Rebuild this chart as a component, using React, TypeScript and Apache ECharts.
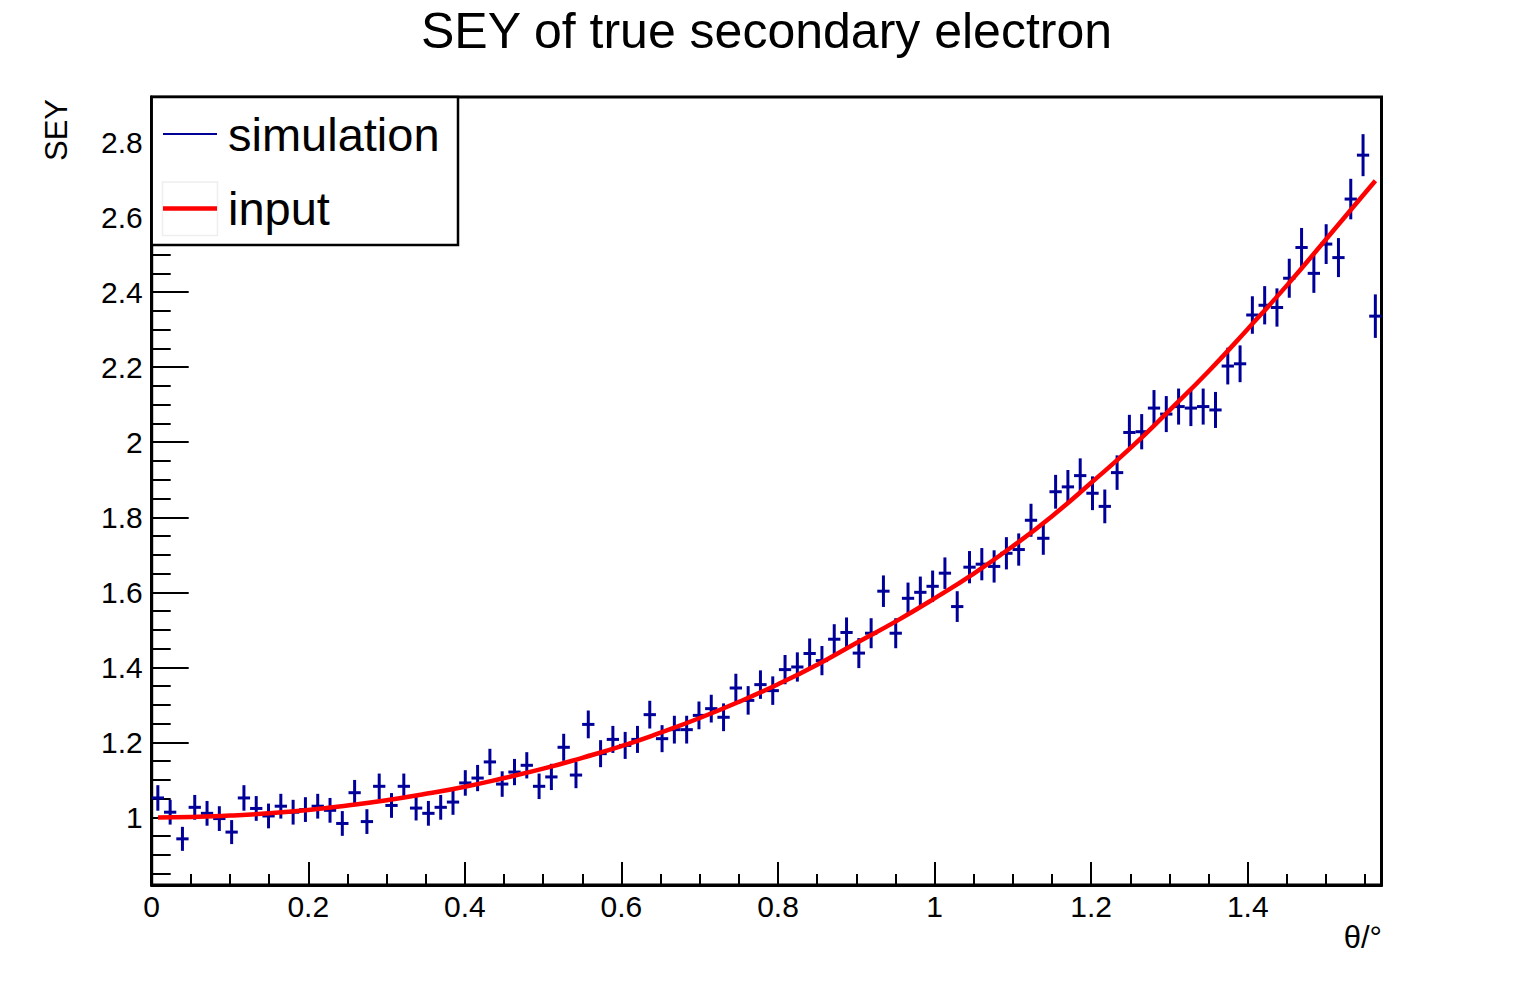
import React, { useEffect, useRef } from "react";
import * as echarts from "echarts";

const FONT = "'Liberation Sans', Arial, Helvetica, sans-serif";
const XMAX = Math.PI / 2;
const NBINS = 100;
const BIN_W = XMAX / NBINS;

// simulated SEY per angular bin (100 bins over [0, pi/2])
const simValues = [
  1.052, 1.014, 0.943, 1.027, 1.011, 0.997, 0.961, 1.052, 1.024, 1.004,
  1.030, 1.014, 1.021, 1.030, 1.019, 0.984, 1.066, 0.989, 1.083, 1.032,
  1.083, 1.025, 1.011, 1.027, 1.041, 1.092, 1.105, 1.148, 1.089, 1.121,
  1.139, 1.083, 1.108, 1.187, 1.113, 1.248, 1.170, 1.208, 1.192, 1.208,
  1.274, 1.210, 1.234, 1.234, 1.272, 1.290, 1.267, 1.345, 1.312, 1.354,
  1.338, 1.394, 1.401, 1.437, 1.418, 1.475, 1.493, 1.438, 1.491, 1.603,
  1.491, 1.584, 1.600, 1.616, 1.651, 1.562, 1.667, 1.675, 1.669, 1.704,
  1.714, 1.792, 1.744, 1.868, 1.881, 1.911, 1.864, 1.829, 1.919, 2.026,
  2.028, 2.091, 2.075, 2.095, 2.091, 2.095, 2.086, 2.203, 2.209, 2.339,
  2.365, 2.359, 2.437, 2.519, 2.450, 2.528, 2.492, 2.648, 2.765, 2.336,
];

const simErrors = [
  0.034, 0.033, 0.032, 0.033, 0.033, 0.033, 0.032, 0.034, 0.033, 0.033,
  0.033, 0.033, 0.033, 0.033, 0.033, 0.033, 0.034, 0.033, 0.034, 0.033,
  0.034, 0.033, 0.033, 0.033, 0.034, 0.034, 0.035, 0.035, 0.034, 0.035,
  0.035, 0.034, 0.035, 0.036, 0.035, 0.037, 0.036, 0.036, 0.036, 0.036,
  0.037, 0.036, 0.037, 0.037, 0.037, 0.037, 0.037, 0.038, 0.038, 0.038,
  0.038, 0.039, 0.039, 0.040, 0.039, 0.040, 0.040, 0.040, 0.040, 0.042,
  0.040, 0.042, 0.042, 0.042, 0.042, 0.041, 0.043, 0.043, 0.043, 0.043,
  0.043, 0.044, 0.044, 0.045, 0.045, 0.046, 0.045, 0.045, 0.046, 0.047,
  0.047, 0.048, 0.048, 0.048, 0.048, 0.048, 0.048, 0.049, 0.049, 0.050,
  0.051, 0.051, 0.052, 0.052, 0.052, 0.053, 0.052, 0.054, 0.056, 0.058,
];

// input curve, read at sample angles
const inputX = [
  0.008, 0.05, 0.1, 0.15, 0.2, 0.25, 0.3, 0.35, 0.4, 0.45, 0.5, 0.55, 0.6,
  0.65, 0.7, 0.75, 0.8, 0.85, 0.9, 0.95, 1.0, 1.05, 1.1, 1.15, 1.2, 1.25,
  1.3, 1.35, 1.4, 1.45, 1.5, 1.55, 1.563,
];
const inputY = [
  1.0, 1.001, 1.005, 1.011, 1.02, 1.032, 1.046, 1.063, 1.082, 1.105, 1.13,
  1.159, 1.19, 1.226, 1.265, 1.308, 1.355, 1.407, 1.465, 1.522, 1.584, 1.65,
  1.723, 1.803, 1.892, 1.984, 2.085, 2.189, 2.302, 2.418, 2.541, 2.665, 2.697,
];

const xMajorTicks = [0, 0.2, 0.4, 0.6, 0.8, 1, 1.2, 1.4];
const xMinorTicks = [
  0.05, 0.1, 0.15, 0.25, 0.3, 0.35, 0.45, 0.5, 0.55, 0.65, 0.7, 0.75, 0.85,
  0.9, 0.95, 1.05, 1.1, 1.15, 1.25, 1.3, 1.35, 1.45, 1.5, 1.55,
];
const yMajorTicks = [1, 1.2, 1.4, 1.6, 1.8, 2, 2.2, 2.4, 2.6, 2.8];
const yMinorTicks = [
  0.85, 0.9, 0.95, 1.05, 1.1, 1.15, 1.25, 1.3, 1.35, 1.45, 1.5, 1.55, 1.65,
  1.7, 1.75, 1.85, 1.9, 1.95, 2.05, 2.1, 2.15, 2.25, 2.3, 2.35, 2.45, 2.5,
  2.55, 2.65, 2.7, 2.75, 2.85, 2.9,
];

const YMIN = 0.82;
const YMAX = 2.92;

export default function App() {
  const ref = useRef<HTMLDivElement>(null);

  useEffect(() => {
    if (!ref.current) return;
    const chart = echarts.init(ref.current, null, { renderer: "svg" });

    const simData = simValues.map((v, i) => [
      (i + 0.5) * BIN_W,
      v,
      simErrors[i],
    ]);
    const inputData = inputX.map((x, i) => [x, inputY[i]]);

    const blue = "#000099";

    const baseX = {
      type: "value",
      min: 0,
      max: XMAX,
      position: "bottom",
      splitLine: { show: false },
    };
    const baseY = {
      type: "value",
      min: YMIN,
      max: YMAX,
      position: "left",
      splitLine: { show: false },
    };

    const LZ = 100;

    chart.setOption({
      animation: false,
      backgroundColor: "#fff",
      title: {
        text: "SEY of true secondary electron",
        left: "center",
        top: 1,
        textStyle: {
          fontSize: 50,
          fontWeight: "normal",
          fontFamily: FONT,
          color: "#000",
        },
      },
      grid: {
        left: 151.7,
        right: 151.5,
        top: 97,
        bottom: 97,
        show: true,
        borderColor: "#000",
        borderWidth: 3,
        backgroundColor: "transparent",
      },
      xAxis: [
        {
          ...baseX,
          axisLine: { show: true, onZero: false, lineStyle: { color: "#000", width: 3 } },
          axisTick: {
            show: true,
            inside: true,
            length: 23,
            customValues: xMajorTicks,
            lineStyle: { color: "#000", width: 2 },
          },
          axisLabel: {
            show: true,
            customValues: xMajorTicks,
            fontSize: 30,
            fontFamily: FONT,
            color: "#000",
            margin: 6,
            formatter: (v: number) => String(+v.toFixed(2)),
          },
        },
        {
          ...baseX,
          axisLine: { show: false, onZero: false },
          axisTick: {
            show: true,
            inside: true,
            length: 11,
            customValues: xMinorTicks,
            lineStyle: { color: "#000", width: 2 },
          },
          axisLabel: { show: false },
        },
      ],
      yAxis: [
        {
          ...baseY,
          axisLine: { show: true, onZero: false, lineStyle: { color: "#000", width: 3 } },
          axisTick: {
            show: true,
            inside: true,
            length: 37,
            customValues: yMajorTicks,
            lineStyle: { color: "#000", width: 2 },
          },
          axisLabel: {
            show: true,
            customValues: yMajorTicks,
            fontSize: 30,
            fontFamily: FONT,
            color: "#000",
            margin: 9,
            formatter: (v: number) => String(+v.toFixed(2)),
          },
        },
        {
          ...baseY,
          axisLine: { show: false, onZero: false },
          axisTick: {
            show: true,
            inside: true,
            length: 19,
            customValues: yMinorTicks,
            lineStyle: { color: "#000", width: 2 },
          },
          axisLabel: { show: false },
        },
      ],
      series: [
        {
          name: "simulation",
          type: "custom",
          xAxisIndex: 0,
          yAxisIndex: 0,
          clip: true,
          data: simData,
          encode: { x: 0, y: 1 },
          z: 3,
          renderItem: (params: any, api: any) => {
            const x = api.value(0);
            const y = api.value(1);
            const e = api.value(2);
            const c = api.coord([x, y]);
            const top = api.coord([x, y + e]);
            const bot = api.coord([x, y - e]);
            const l = api.coord([x - BIN_W / 2, y]);
            const r = api.coord([x + BIN_W / 2, y]);
            const style = { stroke: blue, lineWidth: 3 };
            return {
              type: "group",
              children: [
                {
                  type: "line",
                  shape: { x1: c[0], y1: top[1], x2: c[0], y2: bot[1] },
                  style,
                },
                {
                  type: "line",
                  shape: { x1: l[0], y1: c[1], x2: r[0], y2: c[1] },
                  style,
                },
              ],
            };
          },
        },
        {
          name: "input",
          type: "line",
          xAxisIndex: 0,
          yAxisIndex: 0,
          data: inputData,
          smooth: true,
          symbol: "none",
          z: 5,
          lineStyle: { color: "#ff0000", width: 4.5 },
        },
      ],
      graphic: [
        {
          type: "text",
          x: 56,
          y: 99,
          rotation: Math.PI / 2,
          style: {
            text: "SEY",
            fontSize: 31,
            fontFamily: FONT,
            fill: "#000",
            align: "right",
            verticalAlign: "middle",
          },
        },
        {
          type: "text",
          x: 1382,
          y: 937,
          style: {
            text: "θ/°",
            fontSize: 31,
            fontFamily: FONT,
            fill: "#000",
            align: "right",
            verticalAlign: "middle",
          },
        },
        {
          type: "rect",
          z: LZ,
          shape: { x: 151.7, y: 97, width: 306.3, height: 148 },
          style: { fill: "#fff", stroke: "#000", lineWidth: 2.5 },
        },
        {
          type: "line",
          z: LZ + 1,
          shape: { x1: 163, y1: 134, x2: 217, y2: 134 },
          style: { stroke: blue, lineWidth: 2 },
        },
        {
          type: "rect",
          z: LZ + 1,
          shape: { x: 162.5, y: 182, width: 55, height: 53.5 },
          style: { fill: "#fff", stroke: "#eeeeee", lineWidth: 1.5 },
        },
        {
          type: "line",
          z: LZ + 2,
          shape: { x1: 163, y1: 208.5, x2: 217, y2: 208.5 },
          style: { stroke: "#ff0000", lineWidth: 4.5 },
        },
        {
          type: "text",
          z: LZ + 2,
          x: 228,
          y: 134.5,
          style: {
            text: "simulation",
            fontSize: 47,
            fontFamily: FONT,
            fill: "#000",
            align: "left",
            verticalAlign: "middle",
          },
        },
        {
          type: "text",
          z: LZ + 2,
          x: 228,
          y: 208.5,
          style: {
            text: "input",
            fontSize: 47,
            fontFamily: FONT,
            fill: "#000",
            align: "left",
            verticalAlign: "middle",
          },
        },
      ],
    });

    return () => chart.dispose();
  }, []);

  return (
    <div
      ref={ref}
      style={{ position: "fixed", left: 0, top: 0, width: 1533, height: 982 }}
    />
  );
}
